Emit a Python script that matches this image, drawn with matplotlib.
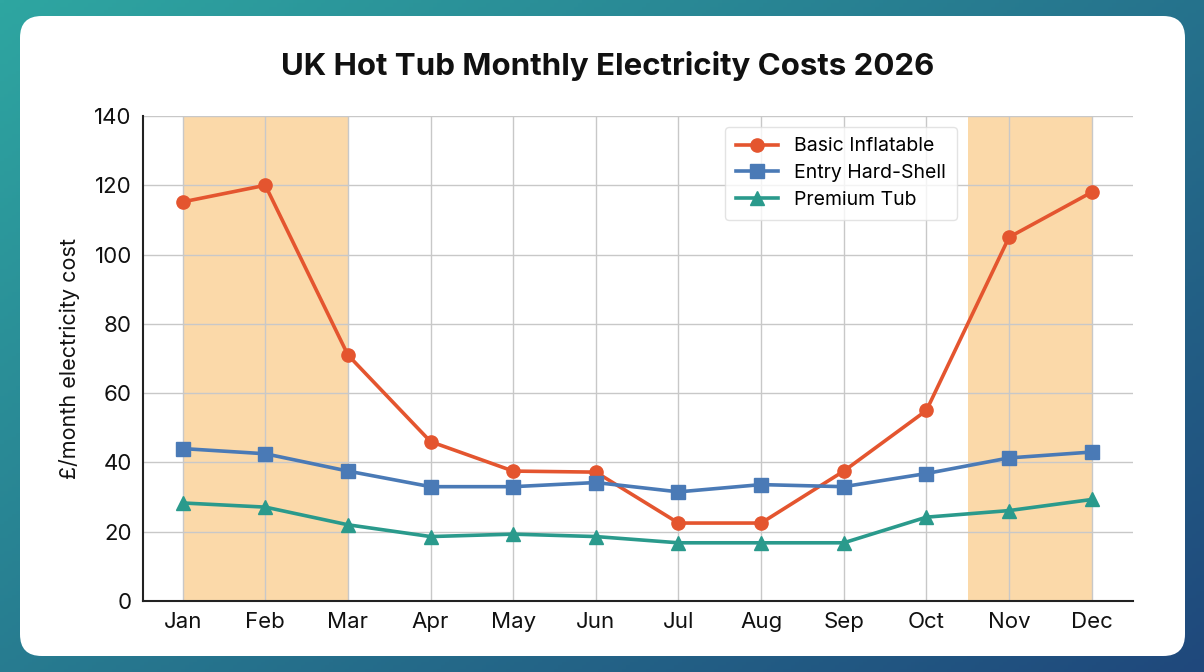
import numpy as np
import matplotlib.pyplot as plt
from matplotlib.patches import FancyBboxPatch

plt.rcParams["font.family"] = ["Inter", "DejaVu Sans"]

# =========================================================
# Data
# =========================================================

months = ["Jan", "Feb", "Mar", "Apr", "May", "Jun",
          "Jul", "Aug", "Sep", "Oct", "Nov", "Dec"]

basic_inflatable = [115.2, 120, 71, 46, 37.5, 37.2, 22.5, 22.5, 37.5, 55, 105, 118]
entry_hard_shell = [44, 42.5, 37.5, 33, 33, 34.2, 31.5, 33.6, 33, 36.8, 41.3, 43]
premium_tub = [28.3, 27.1, 22, 18.6, 19.3, 18.6, 16.8, 16.8, 16.8, 24.2, 26.1, 29.3]

# winter shading (index ranges on the month axis)
winter_spans = [(0, 2), (9.5, 11)]

# =========================================================
# Figure + background
# =========================================================

fig = plt.figure(figsize=(12.04, 6.72), dpi=100)

bg = fig.add_axes([0, 0, 1, 1])
gx, gy = np.meshgrid(np.linspace(0, 1, 300), np.linspace(0, 1, 200))
t = np.clip(0.55 * gx + 0.45 * gy, 0, 1)
c0 = np.array([0x2e, 0xa6, 0xa1]) / 255
c1 = np.array([0x1f, 0x48, 0x7c]) / 255
img = c0[None, None, :] * (1 - t[..., None]) + c1[None, None, :] * t[..., None]
bg.imshow(img, extent=[0, 1, 0, 1], aspect="auto", origin="upper")
bg.set_xlim(0, 1)
bg.set_ylim(0, 1)
bg.axis("off")

card = FancyBboxPatch((20 / 1204, 16 / 672), 1165 / 1204, 640 / 672,
                      boxstyle="round,pad=0,rounding_size=0.018",
                      transform=fig.transFigure, facecolor="white",
                      edgecolor="none", mutation_aspect=1204 / 672)
bg.add_patch(card)

fig.text(608 / 1204, 1 - 66 / 672, "UK Hot Tub Monthly Electricity Costs 2026",
         ha="center", va="center", fontsize=22.5, fontweight="bold", color="#111111")

# =========================================================
# Chart
# =========================================================

ax = fig.add_axes([143 / 1204, 1 - 601 / 672, 990 / 1204, 485 / 672])
ax.set_facecolor("none")
x = np.arange(len(months))

for lo, hi in winter_spans:
    ax.axvspan(lo, hi, color="#fbd9a9", zorder=0, lw=0)

ax.plot(x, basic_inflatable, color="#e4552f", marker="o", ms=9.5, lw=2.6,
        label="Basic Inflatable", zorder=3)
ax.plot(x, entry_hard_shell, color="#4a7ab6", marker="s", ms=9.5, lw=2.6,
        label="Entry Hard-Shell", zorder=3)
ax.plot(x, premium_tub, color="#2a9a8c", marker="^", ms=9.5, lw=2.6,
        label="Premium Tub", zorder=3)

ax.set_xlim(-0.48, 11.5)
ax.set_ylim(0, 140)
ax.set_xticks(x, months)
ax.set_yticks(np.arange(0, 141, 20))
ax.tick_params(length=0, labelsize=16, pad=8, colors="#111111")
ax.set_ylabel("£/month electricity cost", fontsize=15.5, color="#111111", labelpad=10)

ax.set_axisbelow(True)
ax.grid(color="#c8c8c8", lw=1)
for side in ("top", "right"):
    ax.spines[side].set_visible(False)
for side in ("left", "bottom"):
    ax.spines[side].set_color("#222222")
    ax.spines[side].set_linewidth(1.5)

leg = ax.legend(loc="upper left", bbox_to_anchor=(0.578, 0.998), fontsize=14,
                frameon=True, handlelength=2.2, borderpad=0.55, labelspacing=0.45)
leg.get_frame().set_edgecolor("#dddddd")

fig.savefig("out.png", dpi=100)
